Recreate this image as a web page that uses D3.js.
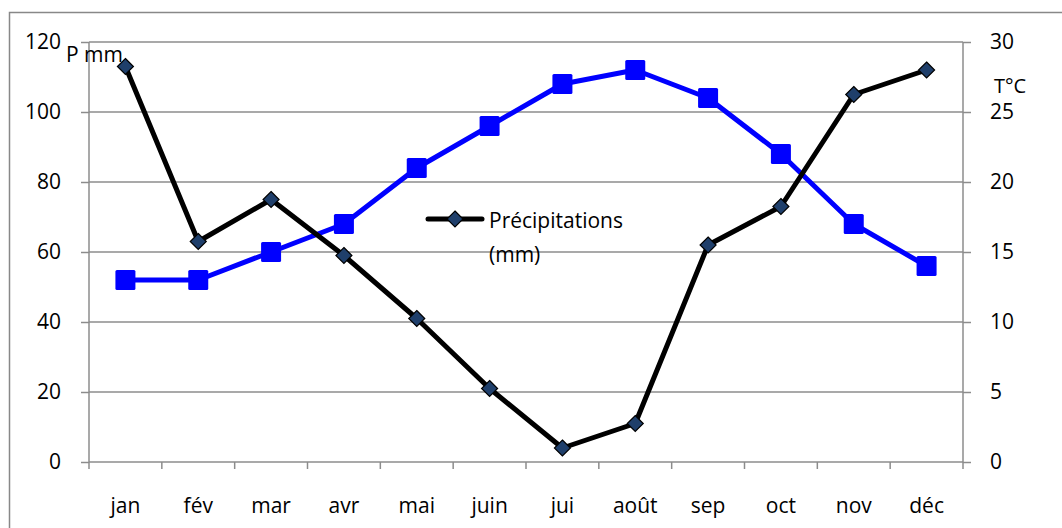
<!DOCTYPE html>
<html>
<head>
<meta charset="utf-8">
<script src="https://cdn.jsdelivr.net/npm/d3@7"></script>
<style>
  body { margin: 0; background: #fff; }
  svg { font-family: "Open Sans", "Noto Sans", sans-serif; }
</style>
</head>
<body>
<svg></svg>
<script>
// data
let months = ["jan", "fév", "mar", "avr", "mai", "juin", "jui", "août", "sep", "oct", "nov", "déc"];
let precip = [113, 63, 75, 59, 41, 21, 4, 11, 62, 73, 105, 112];
let temp = [13, 13, 15, 17, 21, 24, 27, 28, 26, 22, 17, 14];
let leftTicks = [0, 20, 40, 60, 80, 100, 120];
let rightTicks = [0, 5, 10, 15, 20, 25, 30];

let width = 1062;
let height = 528;
let plot = { left: 89, right: 963, top: 42, bottom: 462 };
let fontSize = 21;

let svg = d3.select("svg").attr("width", width).attr("height", height);

// outer frame
svg.append("rect")
   .attr("x", 9.5).attr("y", 12.5)
   .attr("width", 1062).attr("height", 530)
   .attr("fill", "none").attr("stroke", "#888").attr("stroke-width", 1.5);

let xScale = d3.scaleBand().domain(months).range([plot.left, plot.right]);
let yLeft = d3.scaleLinear().domain([0, 120]).range([plot.bottom, plot.top]);
let yRight = d3.scaleLinear().domain([0, 30]).range([plot.bottom, plot.top]);

// gridlines
svg.append("g")
   .selectAll("line")
   .data(leftTicks.filter(d => d > 0))
   .enter()
   .append("line")
   .attr("x1", plot.left).attr("x2", plot.right)
   .attr("y1", d => yLeft(d)).attr("y2", d => yLeft(d))
   .attr("stroke", "#8c8c8c").attr("stroke-width", 1.5);

let leftAxis = d3.axisLeft(yLeft).tickValues(leftTicks).tickSize(8).tickPadding(20);
let rightAxis = d3.axisRight(yRight).tickValues(rightTicks).tickSize(8).tickPadding(19);
let xAxis = d3.axisBottom(xScale).tickSize(0).tickPadding(36);

let styleAxis = (g) => {
  g.selectAll(".domain").attr("stroke", "#8c8c8c").attr("stroke-width", 1.5);
  g.selectAll(".tick line").attr("stroke", "#8c8c8c").attr("stroke-width", 1.5);
  g.selectAll("text").attr("font-size", fontSize).attr("fill", "#000")
   .attr("font-family", "'Open Sans', 'Noto Sans', sans-serif");
};

svg.append("g")
   .attr("transform", "translate(" + plot.left + ",0)")
   .call(leftAxis)
   .call(styleAxis)
   .call(g => g.select(".domain").attr("d", "M0," + plot.top + "V" + plot.bottom));

svg.append("g")
   .attr("transform", "translate(" + plot.right + ",0)")
   .call(rightAxis)
   .call(styleAxis)
   .call(g => g.select(".domain").attr("d", "M0," + plot.top + "V" + plot.bottom));

svg.append("g")
   .attr("transform", "translate(0," + plot.bottom + ")")
   .call(xAxis)
   .call(styleAxis)
   .call(g => g.select(".domain").attr("d", "M" + plot.left + ",0H" + plot.right));

// category tick marks between months
svg.append("g")
   .selectAll("line")
   .data(months.concat(["end"]))
   .enter()
   .append("line")
   .attr("x1", (d, i) => plot.left + i * xScale.bandwidth())
   .attr("x2", (d, i) => plot.left + i * xScale.bandwidth())
   .attr("y1", plot.bottom).attr("y2", plot.bottom + 7)
   .attr("stroke", "#8c8c8c").attr("stroke-width", 1.5);

let cx = (d, i) => xScale(months[i]) + xScale.bandwidth() / 2;

// temperature line (blue)
let tempLine = d3.line().x(cx).y(d => yRight(d));
svg.append("path")
   .datum(temp)
   .attr("d", tempLine)
   .attr("fill", "none").attr("stroke", "#0000ff").attr("stroke-width", 5)
   .attr("stroke-linejoin", "round");
svg.append("g")
   .selectAll("rect")
   .data(temp)
   .enter()
   .append("rect")
   .attr("x", (d, i) => cx(d, i) - 10)
   .attr("y", d => yRight(d) - 10)
   .attr("width", 20).attr("height", 20).attr("rx", 1.5)
   .attr("fill", "#0000ff");

// precipitation line (black)
let precLine = d3.line().x(cx).y(d => yLeft(d));
svg.append("path")
   .datum(precip)
   .attr("d", precLine)
   .attr("fill", "none").attr("stroke", "#000").attr("stroke-width", 5)
   .attr("stroke-linejoin", "round");

let diamond = (x, y) => "M" + x + "," + (y - 8) + "L" + (x + 8) + "," + y + "L" + x + "," + (y + 8) + "L" + (x - 8) + "," + y + "Z";
svg.append("g")
   .selectAll("path")
   .data(precip)
   .enter()
   .append("path")
   .attr("d", (d, i) => diamond(cx(d, i), yLeft(d)))
   .attr("fill", "#1f3f6b").attr("stroke", "#000").attr("stroke-width", 1.2);

// legend
let legend = svg.append("g");
legend.append("line")
      .attr("x1", 428).attr("x2", 482).attr("y1", 219).attr("y2", 219)
      .attr("stroke", "#000").attr("stroke-width", 5).attr("stroke-linecap", "round");
legend.append("path")
      .attr("d", diamond(455, 219))
      .attr("fill", "#1f3f6b").attr("stroke", "#000").attr("stroke-width", 1.2);
legend.append("text").attr("x", 489).attr("y", 228).attr("font-size", fontSize).text("Précipitations");
legend.append("text").attr("x", 489).attr("y", 262).attr("font-size", fontSize).text("(mm)");

// unit labels
svg.append("text").attr("x", 66).attr("y", 62).attr("font-size", fontSize).text("P mm");
svg.append("text").attr("x", 994).attr("y", 93).attr("font-size", 20).text("T°C");
</script>
</body>
</html>
